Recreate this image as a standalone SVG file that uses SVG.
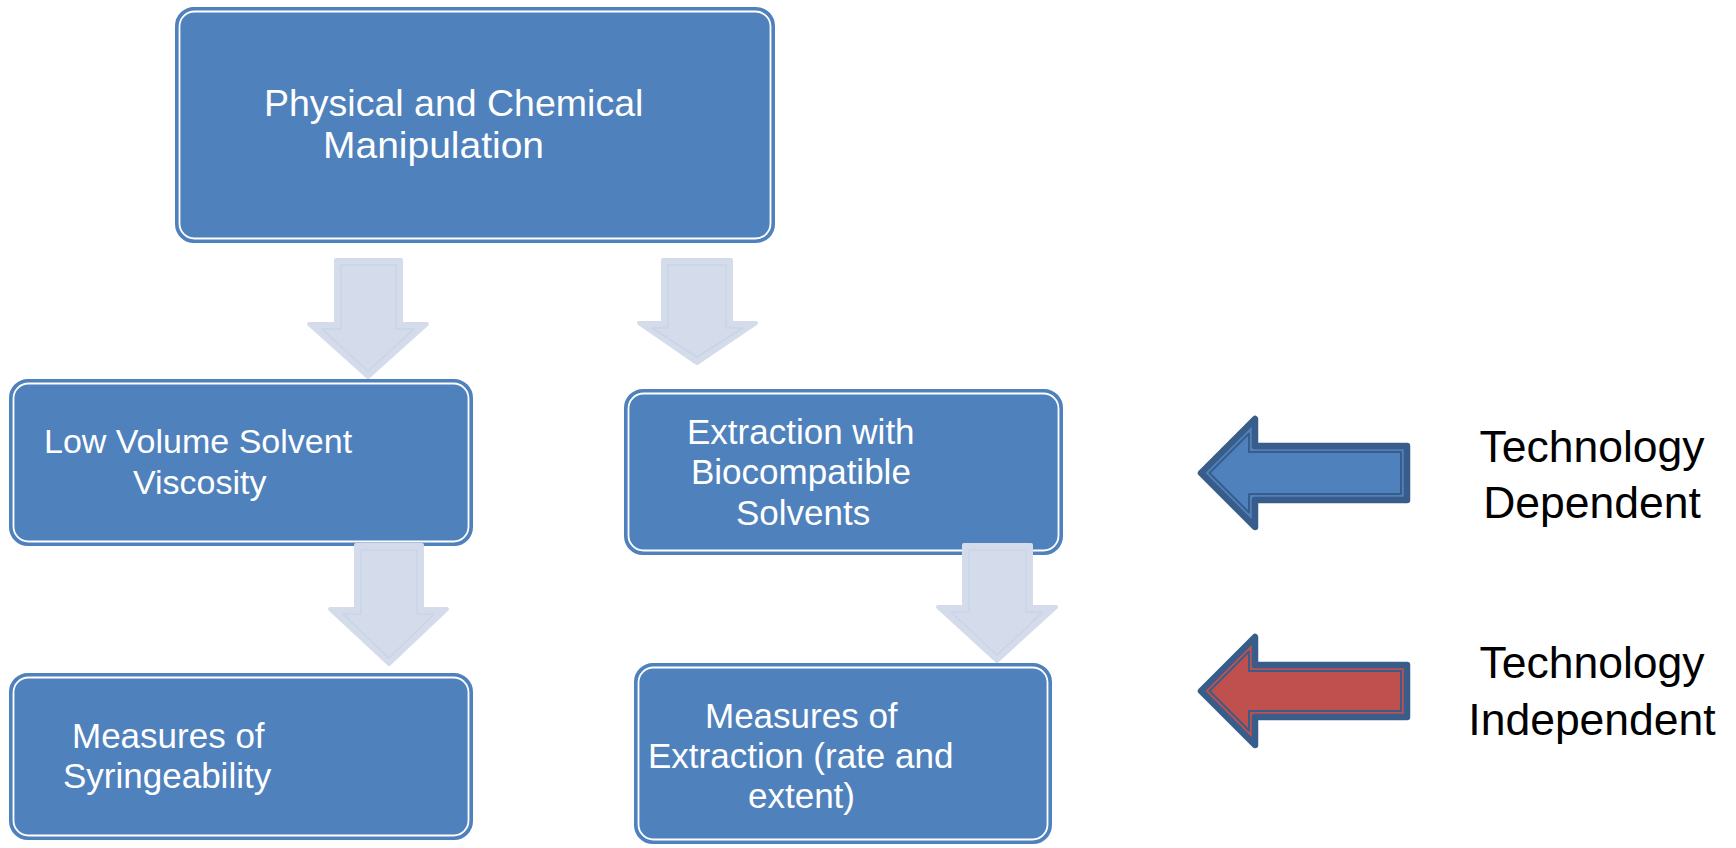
<svg xmlns="http://www.w3.org/2000/svg" width="1736" height="848" viewBox="0 0 1736 848">
<style>
.box{fill:#4F81BD;stroke:#4F81BD;stroke-width:2}
.boxin{fill:none;stroke:#FFFFFF;stroke-width:1.8}
.t{font-family:"Liberation Sans",Arial,sans-serif;fill:#FFFFFF}
.r{font-family:"Liberation Sans",Arial,sans-serif;fill:#000000;font-size:44.5px;text-anchor:middle}
.down{fill:#D4DCEB;stroke:#D4DCEB;stroke-width:4;stroke-linejoin:round}
.downin{fill:none;stroke:#CAD4E6;stroke-width:1.5;stroke-linejoin:round}
.big{stroke:#385D8A;stroke-width:6.5;stroke-linejoin:round}
.bigin{fill:none;stroke:#385D8A;stroke-width:2;stroke-linejoin:round}
</style>
<rect width="1736" height="848" fill="#FFFFFF"/>
<g id="node-physical">
<rect class="box" x="176" y="8" width="598" height="234" rx="18"/>
<rect class="boxin" x="179.5" y="11.5" width="591" height="227" rx="15"/>
<text class="t" font-size="37.5"><tspan x="264" y="116">Physical and Chemical</tspan><tspan x="323" y="158" textLength="221" lengthAdjust="spacingAndGlyphs">Manipulation</tspan></text>
</g>
<g id="node-lowvolume">
<rect class="box" x="10" y="380" width="462" height="165" rx="18"/>
<rect class="boxin" x="13.5" y="383.5" width="455" height="158" rx="15"/>
<text class="t" font-size="34"><tspan x="44" y="453">Low Volume Solvent</tspan><tspan x="133" y="494">Viscosity</tspan></text>
</g>
<g id="node-extraction">
<rect class="box" x="625" y="390" width="437" height="164" rx="18"/>
<rect class="boxin" x="628.5" y="393.5" width="430" height="157" rx="15"/>
<text class="t" font-size="35"><tspan x="687" y="444">Extraction with</tspan><tspan x="691" y="484">Biocompatible</tspan><tspan x="736" y="525">Solvents</tspan></text>
</g>
<g id="node-syringeability">
<rect class="box" x="10" y="674" width="462" height="165" rx="18"/>
<rect class="boxin" x="13.5" y="677.5" width="455" height="158" rx="15"/>
<text class="t" font-size="35"><tspan x="72" y="748">Measures of</tspan><tspan x="63" y="788">Syringeability</tspan></text>
</g>
<g id="node-measures-extraction">
<rect class="box" x="635" y="664" width="416" height="179" rx="18"/>
<rect class="boxin" x="638.5" y="667.5" width="409" height="172" rx="15"/>
<text class="t" font-size="35"><tspan x="705" y="728">Measures of</tspan><tspan x="648" y="768">Extraction (rate and</tspan><tspan x="748" y="808">extent)</tspan></text>
</g>
<g id="connectors">
<path class="down" d="M336,260 H401 V324 H427 L368,377 L309,324 H336 Z"/>
<path class="downin" d="M341,265 H396 V329 H414 L368,371 L322,329 H341 Z"/>
<path class="down" d="M663,260 H731 V323 H756 L697,363 L639,323 H663 Z"/>
<path class="downin" d="M668,265 H726 V328 H743 L697,357 L652,328 H668 Z"/>
<path class="down" d="M356,545 H422 V609 H447 L389,664 L330,609 H356 Z"/>
<path class="downin" d="M361,550 H417 V614 H434 L389,658 L343,614 H361 Z"/>
<path class="down" d="M964,545 H1031 V607 H1056 L997,661 L938,607 H964 Z"/>
<path class="downin" d="M969,550 H1026 V612 H1043 L997,655 L951,612 H969 Z"/>
</g>
<g id="legend-dependent">
<path class="big" fill="#4F81BD" d="M1201,473 L1255,419 V446 H1407 V500 H1255 V527 Z"/>
<path class="bigin" d="M1209.5,473 L1249,433.5 V452 H1401 V494 H1249 V512.5 Z"/>
<text class="r"><tspan x="1592" y="462">Technology</tspan><tspan x="1592" y="518">Dependent</tspan></text>
</g>
<g id="legend-independent">
<path class="big" fill="#C0504D" d="M1201,691 L1255,637 V665 H1407 V717 H1255 V745 Z"/>
<path class="bigin" d="M1209.5,691 L1249,651.5 V671 H1401 V711 H1249 V730.5 Z"/>
<text class="r"><tspan x="1592" y="678">Technology</tspan><tspan x="1592" y="735">Independent</tspan></text>
</g>
</svg>
